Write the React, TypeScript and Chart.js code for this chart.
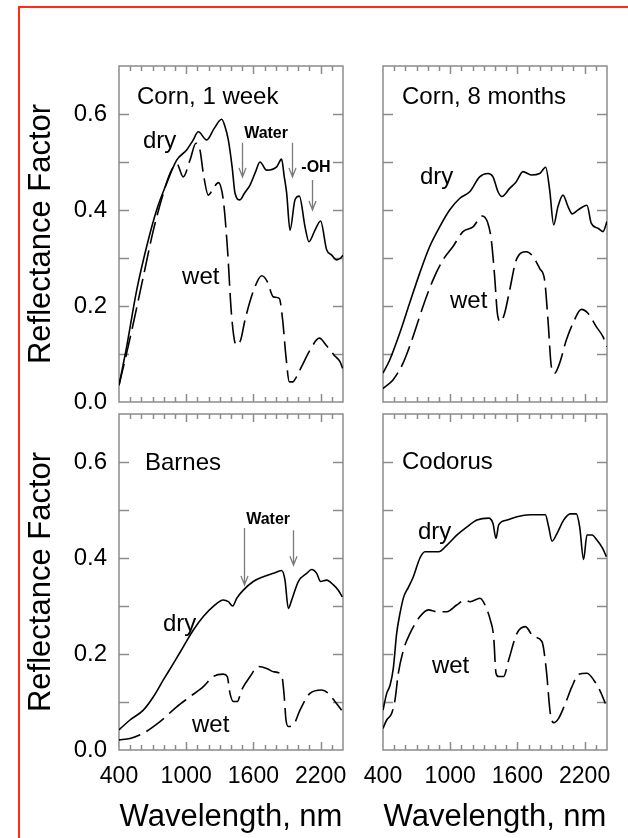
import React, { useEffect, useRef } from "react";
import { Chart, registerables } from "chart.js";
Chart.register(...registerables);

const FONT = '"Liberation Sans", Arial, Helvetica, sans-serif';
const FRAME = "#8c8c8c";
const ARROW = "#7a7a7a";

// axis ticks
const xTickLabels = [400, 1000, 1600, 2200];
const xMinorTicks = [500, 600, 700, 800, 900, 1000, 1100, 1200, 1300, 1400, 1500, 1600, 1700, 1800, 1900, 2000, 2100, 2200, 2300];
const yTickLabels = [0, 0.2, 0.4, 0.6];
const yMinorTicks = [0.1, 0.2, 0.3, 0.4, 0.5, 0.6];

// Corn, 1 week
const corn1wDryNm = [400, 468, 558, 647, 736, 826, 915, 1004, 1060, 1108, 1183, 1250, 1317, 1345, 1376, 1410, 1436, 1480, 1520, 1570, 1620, 1659, 1718, 1808, 1852, 1875, 1897, 1927, 1971, 2010, 2061, 2096, 2150, 2200, 2254, 2299, 2343, 2380, 2400];
const corn1wDryR = [0.035, 0.115, 0.233, 0.324, 0.4, 0.456, 0.504, 0.525, 0.545, 0.563, 0.546, 0.57, 0.589, 0.575, 0.546, 0.49, 0.435, 0.421, 0.435, 0.452, 0.48, 0.5, 0.483, 0.49, 0.506, 0.47, 0.435, 0.358, 0.421, 0.429, 0.365, 0.334, 0.358, 0.377, 0.317, 0.306, 0.296, 0.3, 0.306];
const corn1wWetNm = [400, 454, 528, 617, 707, 796, 855, 915, 974, 1034, 1087, 1123, 1153, 1198, 1242, 1287, 1331, 1367, 1406, 1445, 1486, 1525, 1614, 1674, 1724, 1778, 1831, 1861, 1891, 1921, 1950, 1986, 2031, 2105, 2189, 2254, 2319, 2373, 2397];
const corn1wWetR = [0.035, 0.0875, 0.164, 0.261, 0.358, 0.435, 0.476, 0.497, 0.469, 0.504, 0.539, 0.525, 0.476, 0.431, 0.445, 0.457, 0.421, 0.324, 0.178, 0.119, 0.129, 0.171, 0.24, 0.263, 0.251, 0.219, 0.216, 0.171, 0.094, 0.042, 0.042, 0.053, 0.074, 0.108, 0.133, 0.117, 0.098, 0.084, 0.07];

// Corn, 8 months
const corn8mDryNm = [400, 460, 549, 638, 727, 817, 906, 995, 1084, 1174, 1263, 1337, 1382, 1427, 1462, 1531, 1590, 1650, 1724, 1799, 1852, 1888, 1924, 1962, 2007, 2052, 2090, 2141, 2221, 2260, 2319, 2364, 2400];
const corn8mDryR = [0.06, 0.0875, 0.143, 0.206, 0.268, 0.324, 0.365, 0.4, 0.424, 0.438, 0.469, 0.476, 0.469, 0.438, 0.428, 0.445, 0.459, 0.48, 0.473, 0.476, 0.489, 0.442, 0.369, 0.407, 0.431, 0.407, 0.392, 0.4, 0.41, 0.372, 0.362, 0.355, 0.376];
const corn8mWetNm = [400, 489, 579, 668, 757, 846, 936, 1025, 1114, 1204, 1287, 1337, 1367, 1397, 1421, 1451, 1486, 1531, 1590, 1680, 1739, 1799, 1843, 1873, 1903, 1933, 1977, 2037, 2096, 2171, 2230, 2304, 2364, 2400];
const corn8mWetR = [0.028, 0.046, 0.081, 0.136, 0.199, 0.254, 0.296, 0.324, 0.355, 0.365, 0.3875, 0.372, 0.3375, 0.261, 0.185, 0.167, 0.185, 0.233, 0.296, 0.313, 0.303, 0.278, 0.254, 0.171, 0.074, 0.06, 0.081, 0.129, 0.164, 0.193, 0.185, 0.157, 0.136, 0.115];

// Barnes
const barnesDryNm = [400, 498, 617, 707, 796, 885, 974, 1064, 1153, 1242, 1331, 1376, 1415, 1451, 1510, 1599, 1689, 1778, 1852, 1882, 1912, 1942, 2001, 2076, 2120, 2165, 2200, 2254, 2314, 2358, 2394];
const barnesDryR = [0.042, 0.0625, 0.083, 0.111, 0.146, 0.18, 0.215, 0.25, 0.278, 0.299, 0.3125, 0.309, 0.3, 0.316, 0.333, 0.351, 0.361, 0.368, 0.374, 0.354, 0.295, 0.3125, 0.351, 0.368, 0.376, 0.368, 0.351, 0.354, 0.344, 0.333, 0.319];
const barnesWetNm = [400, 498, 617, 766, 915, 1034, 1153, 1242, 1331, 1367, 1391, 1421, 1456, 1495, 1570, 1644, 1718, 1778, 1852, 1873, 1891, 1912, 1956, 2016, 2105, 2209, 2269, 2328, 2388];
const barnesWetR = [0.021, 0.024, 0.035, 0.059, 0.09, 0.111, 0.132, 0.153, 0.158, 0.153, 0.118, 0.101, 0.101, 0.125, 0.153, 0.174, 0.17, 0.163, 0.156, 0.118, 0.0625, 0.049, 0.052, 0.083, 0.118, 0.125, 0.118, 0.101, 0.083];

// Codorus
const codorusDryNm = [400, 433, 463, 492, 522, 552, 585, 629, 671, 730, 775, 820, 897, 971, 1061, 1150, 1239, 1343, 1382, 1409, 1433, 1507, 1596, 1715, 1849, 1879, 1909, 1953, 2013, 2072, 2126, 2156, 2191, 2221, 2266, 2310, 2361, 2394];
const codorusDryR = [0.083, 0.118, 0.135, 0.17, 0.243, 0.285, 0.319, 0.34, 0.361, 0.4, 0.413, 0.413, 0.413, 0.427, 0.448, 0.465, 0.479, 0.483, 0.472, 0.441, 0.469, 0.479, 0.486, 0.49, 0.49, 0.465, 0.435, 0.451, 0.479, 0.492, 0.492, 0.465, 0.397, 0.448, 0.448, 0.4375, 0.42, 0.403];
const codorusWetNm = [400, 433, 477, 507, 537, 582, 641, 730, 805, 879, 969, 1058, 1132, 1177, 1266, 1311, 1358, 1388, 1409, 1433, 1477, 1522, 1596, 1671, 1745, 1819, 1858, 1894, 1924, 1968, 2028, 2087, 2147, 2221, 2281, 2340, 2385];
const codorusWetR = [0.045, 0.0625, 0.076, 0.104, 0.16, 0.208, 0.243, 0.278, 0.292, 0.288, 0.288, 0.302, 0.3125, 0.309, 0.316, 0.302, 0.271, 0.236, 0.16, 0.153, 0.153, 0.1875, 0.243, 0.257, 0.236, 0.226, 0.167, 0.076, 0.057, 0.066, 0.097, 0.132, 0.158, 0.16, 0.146, 0.122, 0.097];

type Label = { text: string; nm: number; r: number; size: number; bold?: boolean; align?: CanvasTextAlign };
type Arrow = { nm: number; r1: number; r2: number };

const zip = (xs: number[], ys: number[]) => xs.map((x, i) => ({ x, y: ys[i] }));

const decorPlugin = {
  id: "decor",
  beforeDatasetsDraw(chart: any) {
    const { ctx, chartArea: a, scales } = chart;
    const x = scales.x;
    const y = scales.y;
    ctx.save();
    ctx.strokeStyle = FRAME;
    ctx.lineWidth = 1.5;
    ctx.strokeRect(a.left, a.top, a.right - a.left, a.bottom - a.top);
    ctx.beginPath();
    for (const v of xMinorTicks) {
      const px = Math.round(x.getPixelForValue(v)) + 0.5;
      const len = xTickLabels.includes(v) ? 8 : 5;
      ctx.moveTo(px, a.bottom);
      ctx.lineTo(px, a.bottom - len);
      ctx.moveTo(px, a.top);
      ctx.lineTo(px, a.top + len);
    }
    for (const v of yMinorTicks) {
      const py = Math.round(y.getPixelForValue(v)) + 0.5;
      ctx.moveTo(a.left, py);
      ctx.lineTo(a.left + 10, py);
      ctx.moveTo(a.right, py);
      ctx.lineTo(a.right - 10, py);
    }
    ctx.stroke();
    ctx.restore();
  },
  afterDatasetsDraw(chart: any, _args: any, opts: any) {
    const { ctx, scales } = chart;
    const x = scales.x;
    const y = scales.y;
    ctx.save();
    ctx.fillStyle = "#000";
    ctx.textBaseline = "middle";
    for (const l of (opts.labels || []) as Label[]) {
      ctx.font = `${l.bold ? "bold " : ""}${l.size}px ${FONT}`;
      ctx.textAlign = l.align || "left";
      ctx.fillText(l.text, x.getPixelForValue(l.nm), y.getPixelForValue(l.r));
    }
    ctx.strokeStyle = ARROW;
    ctx.lineWidth = 1.3;
    for (const ar of (opts.arrows || []) as Arrow[]) {
      const px = Math.round(x.getPixelForValue(ar.nm)) + 0.5;
      const p1 = y.getPixelForValue(ar.r1);
      const p2 = y.getPixelForValue(ar.r2);
      ctx.beginPath();
      ctx.moveTo(px, p1);
      ctx.lineTo(px, p2);
      ctx.moveTo(px - 3.5, p2 - 9);
      ctx.lineTo(px, p2);
      ctx.lineTo(px + 3.5, p2 - 9);
      ctx.stroke();
    }
    ctx.restore();
  },
};

type PanelProps = {
  left: number;
  top: number;
  width: number;
  height: number;
  dryNm: number[];
  dryR: number[];
  wetNm: number[];
  wetR: number[];
  showYLabels: boolean;
  showXLabels: boolean;
  yAxisWidth: number;
  xAxisHeight: number;
  padTop: number;
  padRight: number;
  labels: Label[];
  arrows: Arrow[];
};

function Panel(p: PanelProps) {
  const ref = useRef<HTMLCanvasElement | null>(null);
  useEffect(() => {
    if (!ref.current) return;
    const lineCommon = {
      borderColor: "#000",
      borderWidth: 1.6,
      pointRadius: 0,
      cubicInterpolationMode: "monotone" as const,
      fill: false,
    };
    const chart = new Chart(ref.current, {
      type: "line",
      data: {
        datasets: [
          { label: "dry", data: zip(p.dryNm, p.dryR), ...lineCommon },
          { label: "wet", data: zip(p.wetNm, p.wetR), ...lineCommon, borderDash: [22, 7] },
        ],
      },
      plugins: [decorPlugin],
      options: {
        responsive: false,
        animation: false,
        devicePixelRatio: 1,
        layout: { padding: { top: p.padTop, right: p.padRight, left: 0, bottom: 0 } },
        plugins: {
          legend: { display: false },
          tooltip: { enabled: false },
          decor: { labels: p.labels, arrows: p.arrows },
        } as any,
        scales: {
          x: {
            type: "linear",
            min: 400,
            max: 2400,
            grid: { display: false, drawTicks: false },
            border: { display: false },
            afterBuildTicks: (s: any) => {
              s.ticks = xTickLabels.map((v) => ({ value: v }));
            },
            afterFit: (s: any) => {
              s.height = p.xAxisHeight;
            },
            ticks: {
              display: p.showXLabels,
              color: "#000",
              font: { family: FONT, size: 23 },
              padding: 13,
              maxRotation: 0,
              autoSkip: false,
              callback: (v: any) => String(v),
            },
            title: {
              display: p.showXLabels,
              text: "Wavelength, nm",
              color: "#000",
              font: { family: FONT, size: 31 },
              padding: { top: 0, bottom: 2 },
            },
          },
          y: {
            type: "linear",
            min: 0,
            max: 0.7,
            grid: { display: false, drawTicks: false },
            border: { display: false },
            afterBuildTicks: (s: any) => {
              s.ticks = yTickLabels.map((v) => ({ value: v }));
            },
            afterFit: (s: any) => {
              s.width = p.yAxisWidth;
            },
            ticks: {
              display: p.showYLabels,
              color: "#000",
              font: { family: FONT, size: 24 },
              padding: 12,
              callback: (v: any) => Number(v).toFixed(1),
            },
            title: {
              display: p.showYLabels,
              text: "Reflectance Factor",
              color: "#000",
              font: { family: FONT, size: 31 },
              padding: { top: 23, bottom: 0 },
            },
          },
        },
      },
    } as any);
    return () => chart.destroy();
  }, []);
  return (
    <canvas
      ref={ref}
      width={p.width}
      height={p.height}
      style={{ position: "absolute", left: p.left, top: p.top, width: p.width, height: p.height }}
    />
  );
}

export default function App() {
  return (
    <div
      style={{
        position: "absolute",
        left: 0,
        top: 0,
        width: 628,
        height: 838,
        overflow: "hidden",
        background: "#fff",
      }}
    >
      <div
        style={{
          position: "absolute",
          left: 18,
          top: 6,
          width: 700,
          height: 900,
          border: "2px solid #ff2d12",
        }}
      />
      <Panel
        left={0}
        top={30}
        width={380}
        height={410}
        dryNm={corn1wDryNm}
        dryR={corn1wDryR}
        wetNm={corn1wWetNm}
        wetR={corn1wWetR}
        showYLabels={true}
        showXLabels={false}
        yAxisWidth={119}
        xAxisHeight={38}
        padTop={36}
        padRight={37}
        labels={[
          { text: "Corn, 1 week", nm: 561, r: 0.635, size: 24 },
          { text: "dry", nm: 614, r: 0.542, size: 24 },
          { text: "wet", nm: 963, r: 0.26, size: 24 },
          { text: "Water", nm: 1713, r: 0.56, size: 16, bold: true, align: "center" },
          { text: "-OH", nm: 2159, r: 0.4875, size: 16, bold: true, align: "center" },
        ]}
        arrows={[
          { nm: 1498, r1: 0.54, r2: 0.469 },
          { nm: 1945, r1: 0.54, r2: 0.469 },
          { nm: 2123, r1: 0.4625, r2: 0.4 },
        ]}
      />
      <Panel
        left={330}
        top={30}
        width={298}
        height={410}
        dryNm={corn8mDryNm}
        dryR={corn8mDryR}
        wetNm={corn8mWetNm}
        wetR={corn8mWetR}
        showYLabels={false}
        showXLabels={false}
        yAxisWidth={53}
        xAxisHeight={38}
        padTop={36}
        padRight={21}
        labels={[
          { text: "Corn, 8 months", nm: 570, r: 0.635, size: 24 },
          { text: "dry", nm: 730, r: 0.469, size: 24 },
          { text: "wet", nm: 998, r: 0.21, size: 24 },
        ]}
        arrows={[]}
      />
      <Panel
        left={0}
        top={380}
        width={380}
        height={458}
        dryNm={barnesDryNm}
        dryR={barnesDryR}
        wetNm={barnesWetNm}
        wetR={barnesWetR}
        showYLabels={true}
        showXLabels={true}
        yAxisWidth={119}
        xAxisHeight={88}
        padTop={34}
        padRight={37}
        labels={[
          { text: "Barnes", nm: 632, r: 0.598, size: 24 },
          { text: "dry", nm: 793, r: 0.2625, size: 24 },
          { text: "wet", nm: 1052, r: 0.052, size: 24 },
          { text: "Water", nm: 1731, r: 0.481, size: 16, bold: true, align: "center" },
        ]}
        arrows={[
          { nm: 1516, r1: 0.4625, r2: 0.344 },
          { nm: 1954, r1: 0.458, r2: 0.385 },
        ]}
      />
      <Panel
        left={330}
        top={380}
        width={298}
        height={458}
        dryNm={codorusDryNm}
        dryR={codorusDryR}
        wetNm={codorusWetNm}
        wetR={codorusWetR}
        showYLabels={false}
        showXLabels={true}
        yAxisWidth={53}
        xAxisHeight={88}
        padTop={34}
        padRight={21}
        labels={[
          { text: "Codorus", nm: 570, r: 0.6, size: 24 },
          { text: "dry", nm: 712, r: 0.454, size: 24 },
          { text: "wet", nm: 837, r: 0.175, size: 24 },
        ]}
        arrows={[]}
      />
    </div>
  );
}
